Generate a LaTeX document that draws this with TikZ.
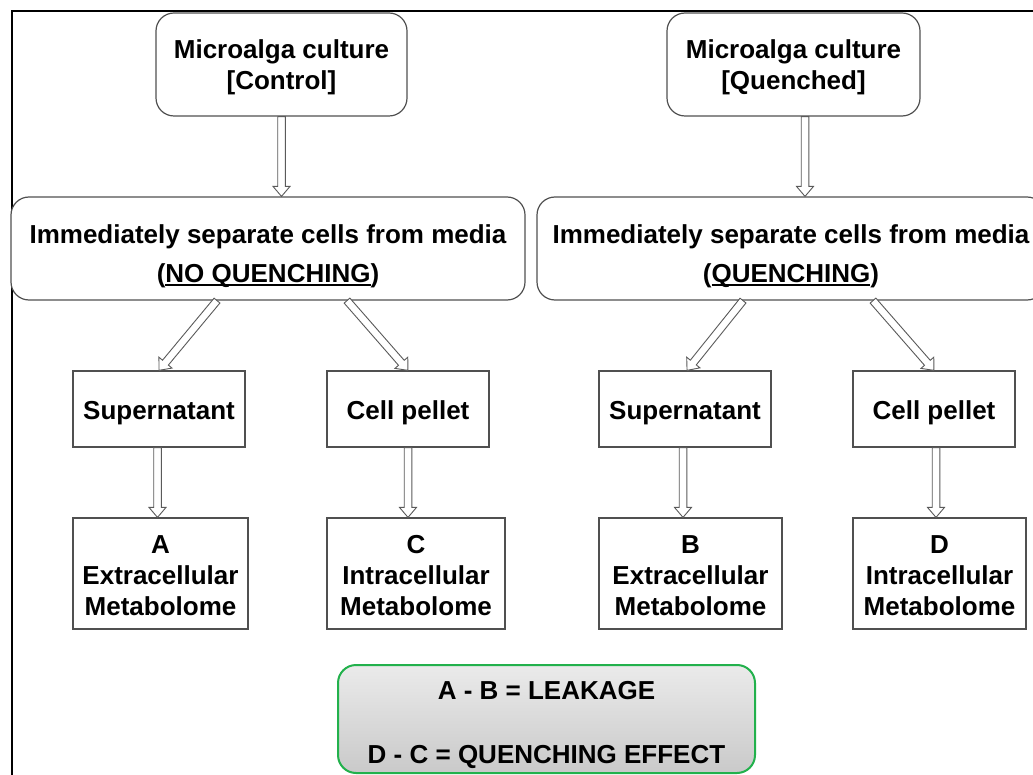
\documentclass[tikz,border=0pt]{standalone}
\usepackage{fontspec}
\setmainfont{Liberation Sans}
\usetikzlibrary{calc}
\definecolor{boxgray}{RGB}{80,80,80}
\definecolor{arrgray}{RGB}{90,90,90}
\definecolor{legendgreen}{RGB}{34,177,76}
% text block lowered by #1 while keeping its size, so it can be placed finely inside a box
\newcommand\shiftedtext[2]{\raisebox{#1}[\height][\depth]{\begin{tabular}{@{}c@{}}#2\end{tabular}}}
% underline set just below the baseline
\newcommand\ulword[1]{\setbox0\hbox{#1}\rlap{\rule[-2.8pt]{\wd0}{1.7pt}}\box0}
\begin{document}
\begin{tikzpicture}[x=1pt,y=-1pt,
  every node/.style={font=\fontsize{26}{31}\selectfont\bfseries, align=center, inner sep=0pt},
  rbox/.style={draw=boxgray, line width=1.2pt, fill=white, rounded corners=18pt},
  sbox/.style={draw=boxgray, line width=1.2pt, fill=white},
  legend/.style={draw=legendgreen, line width=2pt, rounded corners=18pt, top color=gray!16, bottom color=gray!42},
  blockarrow/.style={draw=arrgray, fill=white, line width=0.9pt, line join=miter,
    to path={let \p1=(\tikztostart), \p2=(\tikztotarget),
      \n1={atan2(\y2-\y1,\x2-\x1)}, \n2={veclen(\x2-\x1,\y2-\y1)} in
      {[shift={(\p1)}, rotate=\n1]
        (0pt,-3.8pt) -- ({\n2*1pt-10pt},-3.8pt) -- ({\n2*1pt-10pt},-8.5pt) -- ({\n2*1pt},0pt)
        -- ({\n2*1pt-10pt},8.5pt) -- ({\n2*1pt-10pt},3.8pt) -- (0pt,3.8pt) -- cycle}}}
]
\clip (0,0) rectangle (1033,775);
\fill[white] (0,0) rectangle (1033,775);
\draw[line width=2pt] (11.5,790) -- (11.5,11.5) -- (1045,11.5);

% top boxes
\node[rbox, minimum width=251pt, minimum height=103pt] (top1) at (281.5,64.5)
  {\shiftedtext{-3.8pt}{Microalga culture\\{[Control]}}};
\node[rbox, minimum width=253pt, minimum height=103pt] (top2) at (793.5,64.5)
  {\shiftedtext{-3.8pt}{Microalga culture\\{[Quenched]}}};

% middle boxes
\node[rbox, minimum width=514pt, minimum height=103pt] (mid1) at (268,248.5)
  {\shiftedtext{-8.8pt}{Immediately separate cells from media\\[8pt](\ulword{NO QUENCHING})}};
\node[rbox, minimum width=508pt, minimum height=103pt] (mid2) at (791,248.5)
  {\shiftedtext{-8.8pt}{Immediately separate cells from media\\[8pt](\ulword{QUENCHING})}};

% supernatant / pellet
\node[sbox, minimum width=172pt, minimum height=76pt] (sup1) at (159,409) {\shiftedtext{-4.5pt}{Supernatant}};
\node[sbox, minimum width=162pt, minimum height=76pt] (cell1) at (408,409) {\shiftedtext{-4.5pt}{Cell pellet}};
\node[sbox, minimum width=172pt, minimum height=76pt] (sup2) at (685,409) {\shiftedtext{-4.5pt}{Supernatant}};
\node[sbox, minimum width=162pt, minimum height=76pt] (cell2) at (934,409) {\shiftedtext{-4.5pt}{Cell pellet}};

% metabolome boxes
\node[sbox, minimum width=175pt, minimum height=111pt] (A) at (160.5,573.5) {\shiftedtext{-5pt}{A\\Extracellular\\Metabolome}};
\node[sbox, minimum width=178pt, minimum height=111pt] (C) at (416,573.5) {\shiftedtext{-5pt}{C\\Intracellular\\Metabolome}};
\node[sbox, minimum width=183pt, minimum height=111pt] (B) at (690.5,573.5) {\shiftedtext{-5pt}{B\\Extracellular\\Metabolome}};
\node[sbox, minimum width=173pt, minimum height=111pt] (D) at (939.5,573.5) {\shiftedtext{-5pt}{D\\Intracellular\\Metabolome}};

% legend
\node[legend, minimum width=417pt, minimum height=108pt] (legend) at (546.5,719)
  {\shiftedtext{-5.8pt}{A - B = LEAKAGE\\[33pt]D - C = QUENCHING EFFECT}};

% arrows
\draw[blockarrow] (top1.south) to (top1.south |- mid1.north);
\draw[blockarrow] ([xshift=11.5pt]top2.south) to ([xshift=11.5pt]top2.south |- mid2.north);
\draw[blockarrow] ([xshift=-51pt]mid1.south) to (sup1.north);
\draw[blockarrow] ([xshift=79pt]mid1.south) to (cell1.north);
\draw[blockarrow] ([xshift=-48pt]mid2.south) to ([xshift=2pt]sup2.north);
\draw[blockarrow] ([xshift=82pt]mid2.south) to (cell2.north);
\draw[blockarrow] ([xshift=-1.5pt]sup1.south) to ([xshift=-1.5pt]sup1.south |- A.north);
\draw[blockarrow] (cell1.south) to (cell1.south |- C.north);
\draw[blockarrow] ([xshift=-2pt]sup2.south) to ([xshift=-2pt]sup2.south |- B.north);
\draw[blockarrow] ([xshift=2pt]cell2.south) to ([xshift=2pt]cell2.south |- D.north);
\end{tikzpicture}
\end{document}
